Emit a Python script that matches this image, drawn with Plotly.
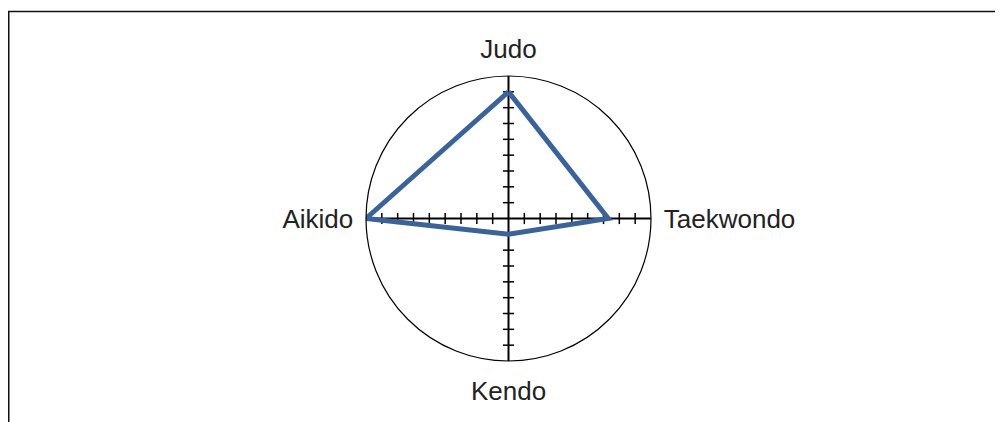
import plotly.graph_objects as go

# martial arts radar
categories = ['Judo', 'Taekwondo', 'Kendo', 'Aikido']
values = [8, 6.3, 1, 9]
tick_values = [1, 2, 3, 4, 5, 6, 7, 8]
radial_max = 9

W, H = 1003, 422
off = 8  # page body margin

line_color = 'rgb(59,99,153)'
font = dict(family='Liberation Sans, Arial, sans-serif', size=26, color='#222222')

fig = go.Figure()

# small crossing ticks on every spoke
for cat in categories:
    sym = 'line-ew' if cat in ('Judo', 'Kendo') else 'line-ns'
    fig.add_trace(go.Scatterpolar(
        r=tick_values,
        theta=[cat] * len(tick_values),
        mode='markers',
        marker=dict(symbol=sym, size=8, line=dict(width=1.5, color='black')),
        hoverinfo='skip',
        showlegend=False,
    ))

fig.add_trace(go.Scatterpolar(
    r=values + values[:1],
    theta=categories + categories[:1],
    mode='lines',
    line=dict(color=line_color, width=5),
    showlegend=False,
))

fig.update_layout(
    width=W,
    height=H,
    margin=dict(l=0, r=0, t=0, b=0),
    paper_bgcolor='white',
    plot_bgcolor='white',
    font=font,
    polar=dict(
        domain=dict(x=[(366 - off) / W, (651 - off) / W],
                    y=[(61 + off) / H, (346 + off) / H]),
        bgcolor='white',
        radialaxis=dict(visible=False, range=[0, radial_max]),
        angularaxis=dict(
            rotation=90,
            direction='clockwise',
            categoryorder='array',
            categoryarray=categories,
            showline=True,
            linecolor='black',
            linewidth=1.2,
            showgrid=True,
            gridcolor='black',
            gridwidth=2,
            ticks='outside',
            ticklen=7,
            tickcolor='rgba(0,0,0,0)',
            tickfont=font,
        ),
    ),
    shapes=[
        dict(type='rect', xref='paper', yref='paper',
             x0=0.75 / W, x1=1.2, y0=-0.2, y1=1 - (11.5 - off) / H,
             line=dict(color='#111111', width=1.5), layer='below'),
    ],
)

fig.write_html('out.html')
